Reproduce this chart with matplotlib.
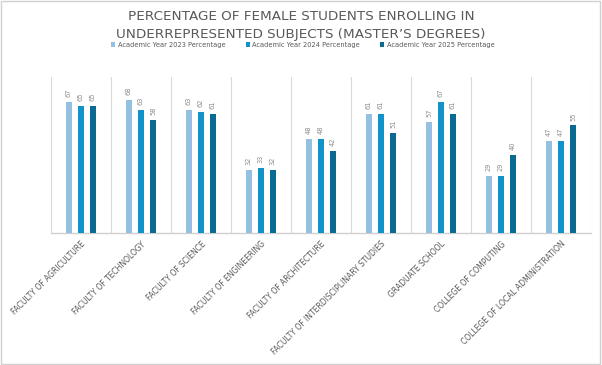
import matplotlib.pyplot as plt
from matplotlib.patches import Rectangle
import numpy as np

categories = ['FACULTY OF AGRICULTURE', 'FACULTY OF TECHNOLOGY', 'FACULTY OF SCIENCE',
              'FACULTY OF ENGINEERING', 'FACULTY OF ARCHITECTURE',
              'FACULTY OF INTERDISCIPLINARY STUDIES', 'GRADUATE SCHOOL',
              'COLLEGE OF COMPUTING', 'COLLEGE OF LOCAL ADMINISTRATION']
year_2023 = [67, 68, 63, 32, 48, 61, 57, 29, 47]
year_2024 = [65, 63, 62, 33, 48, 61, 67, 29, 47]
year_2025 = [65, 58, 61, 32, 42, 51, 61, 40, 55]
series_names = ['Academic Year 2023 Percentage', 'Academic Year 2024 Percentage',
                'Academic Year 2025 Percentage']

colors = ['#94c0e2', '#1192c8', '#0a6a92']
grey = '#595959'

fig = plt.figure(figsize=(6.02, 3.65), dpi=100)
ax = fig.add_axes([0.0847, 0.3625, 0.897, 0.4275])

x = np.arange(len(categories))
width = 0.11
offsets = [-0.2, 0, 0.2]
for vals, off, c, name in zip([year_2023, year_2024, year_2025], offsets, colors, series_names):
    bars = ax.bar(x + off, vals, width, color=c, label=name, zorder=3)
    for b, v in zip(bars, vals):
        ax.text(b.get_x() + b.get_width() / 2, v + 2.5, str(v), rotation=90,
                ha='center', va='bottom', fontsize=4.8, color='#8c8c8c')

ax.set_xlim(-0.5, len(categories) - 0.5)
ax.set_ylim(0, 80)
ax.set_yticks([])
ax.set_xticks(x)
ax.set_xticklabels(categories, rotation=45, ha='right', rotation_mode='anchor',
                   fontsize=5.5, color=grey)
ax.tick_params(axis='x', length=0, pad=5)
for b in np.arange(-0.5, len(categories), 1):
    ax.axvline(b, color='#d9d9d9', lw=0.8, zorder=1)
for s in ['top', 'left', 'right']:
    ax.spines[s].set_visible(False)
ax.spines['bottom'].set_color('#d0d0d0')
ax.spines['bottom'].set_linewidth(1)

fig.text(0.5, 0.955, 'PERCENTAGE OF FEMALE STUDENTS ENROLLING IN',
         ha='center', va='center', fontsize=9.7, color=grey)
fig.text(0.5, 0.905, 'UNDERREPRESENTED SUBJECTS (MASTER\u2019S DEGREES)',
         ha='center', va='center', fontsize=9.7, color=grey)

fig.legend(loc='center', bbox_to_anchor=(0.503, 0.877), ncol=3, frameon=False,
           fontsize=4.8, labelcolor=grey, handlelength=0.6, handleheight=0.6,
           handletextpad=0.4, columnspacing=3)

fig.patches.append(Rectangle((0.002, 0.003), 0.995, 0.993, transform=fig.transFigure,
                             fill=False, edgecolor='#d0d0d0', lw=1))

fig.savefig('out.png', dpi=100)
